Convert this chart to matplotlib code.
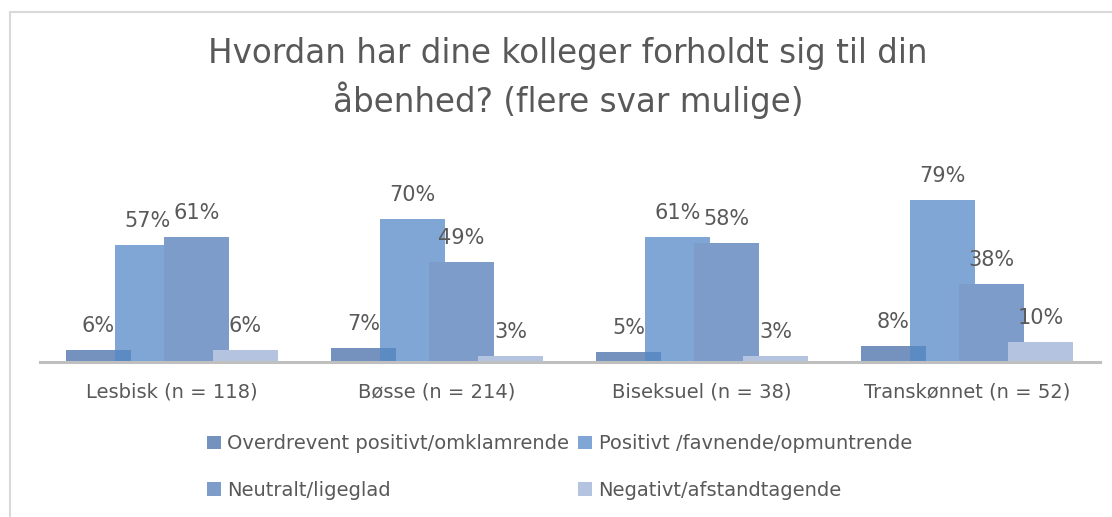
import numpy as np
import matplotlib
matplotlib.use('Agg')
import matplotlib.pyplot as plt
from matplotlib.lines import Line2D

categories = ['Lesbisk (n = 118)', 'Bøsse (n = 214)', 'Biseksuel (n = 38)', 'Transkønnet (n = 52)']
series_names = ['Overdrevent positivt/omklamrende', 'Positivt /favnende/opmuntrende',
                'Neutralt/ligeglad', 'Negativt/afstandtagende']
overdrevent = [6, 7, 5, 8]
positivt = [57, 70, 61, 79]
neutralt = [61, 49, 58, 38]
negativt = [6, 3, 3, 10]

title = 'Hvordan har dine kolleger forholdt sig til din\nåbenhed? (flere svar mulige)'

colors = ['#7492bd', '#5488c6', '#7e9cc9', '#b4c4e0']
alphas = [1.0, 0.75, 1.0, 1.0]
txt_col = '#595959'

W, H = 1112, 517
fig = plt.figure(figsize=(W / 100, H / 100), dpi=100)

# axes placed in pixel terms: baseline at y=362, x from 39.5 to 1099.5
ax = fig.add_axes([39.5 / W, (H - 362) / H, 1060 / W, 192 / H])
ax.set_xlim(-0.5, 3.5)
ax.set_ylim(0, 192 / 2.05)

x = np.arange(len(categories))
step = 49 / 265
width = 65 / 265
all_series = [overdrevent, positivt, neutralt, negativt]
handles = []
for i, vals in enumerate(all_series):
    pos = x + (i - 1.5) * step
    b = ax.bar(pos, vals, width, color=colors[i], alpha=alphas[i], zorder=2 + i,
               label=series_names[i], linewidth=0)
    handles.append(b)
    for xp, v in zip(pos, vals):
        ax.annotate('%d%%' % v, (xp, v), xytext=(0, 10), textcoords='offset points',
                    ha='center', va='bottom', fontsize=15, color=txt_col, zorder=10)

for s in ['top', 'right', 'left']:
    ax.spines[s].set_visible(False)
ax.spines['bottom'].set_color('#bfbfbf')
ax.spines['bottom'].set_linewidth(2.2)
ax.spines['bottom'].set_zorder(20)
ax.set_yticks([])
ax.set_xticks(x)
ax.set_xticklabels(categories, fontsize=14, color=txt_col)
ax.tick_params(axis='x', length=0, pad=15)

fig.text(0.511, 1 - 78 / H, title, ha='center', va='center', fontsize=23.5,
         color=txt_col, linespacing=1.35)

order = [0, 2, 1, 3]
leg = fig.legend([handles[k] for k in order], [series_names[k] for k in order],
                 ncol=2, loc='center', bbox_to_anchor=(0.503, 1 - 467 / H),
                 frameon=False, fontsize=14, handlelength=0.7, handleheight=0.7,
                 handletextpad=0.35, columnspacing=0.45, labelspacing=1.42)
for t in leg.get_texts():
    t.set_color(txt_col)

# light chart border (top and left visible)
fig.add_artist(Line2D([10 / W, 1.0], [1 - 12 / H, 1 - 12 / H], color='#d9d9d9', lw=1.5))
fig.add_artist(Line2D([10 / W, 10 / W], [0, 1 - 12 / H], color='#d9d9d9', lw=1.5))

fig.savefig('out.png', dpi=100)
